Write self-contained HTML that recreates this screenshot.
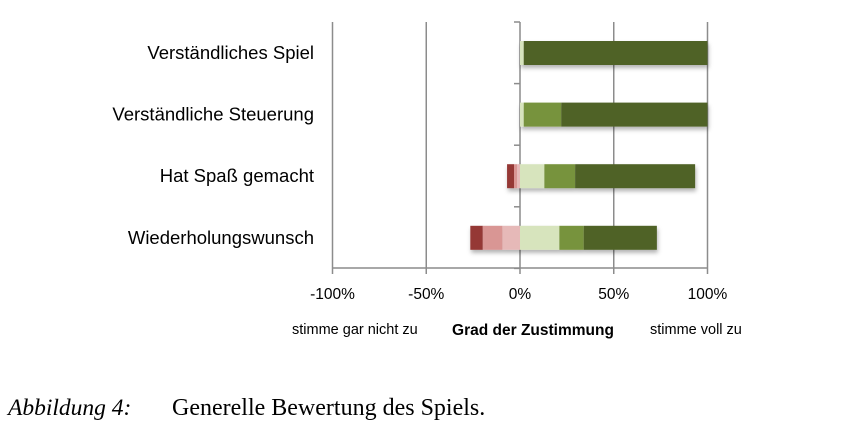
<!DOCTYPE html>
<html><head><meta charset="utf-8"><style>
body{margin:0;background:#fff;width:852px;height:442px;overflow:hidden;font-family:"Liberation Sans",sans-serif}
svg{position:absolute;left:0;top:0}
</style></head><body>
<svg width="852" height="442" id="c">
<defs><filter id="sh" x="-5%" y="-20%" width="110%" height="160%"><feDropShadow dx="1" dy="3" stdDeviation="2" flood-color="#000" flood-opacity="0.3"/></filter></defs>
<g id="grid"></g><g id="bars"></g><g id="labels"></g>
<text x="292" y="334" font-size="14.5" fill="#000">stimme gar nicht zu</text>
<text x="533" y="335" font-size="15.5" font-weight="bold" text-anchor="middle" fill="#000">Grad der Zustimmung</text>
<text x="650" y="334" font-size="14.5" fill="#000">stimme voll zu</text>
<text x="8" y="415" font-family="Liberation Serif,serif" font-size="23.5" font-style="italic">Abbildung 4:</text>
<text x="172" y="415" font-family="Liberation Serif,serif" font-size="24">Generelle Bewertung des Spiels.</text>
</svg>
<script>
const categories=["Verständliches Spiel","Verständliche Steuerung","Hat Spaß gemacht","Wiederholungswunsch"];
const negLight=[0,0,1.6,9.4];
const negMid=[0,0,1.6,10.5];
const negDark=[0,0,3.7,6.6];
const posLight=[2,2,13,21];
const posMid=[0,20,16.4,13];
const posDark=[98,78,64,39];
const ticks=[-100,-50,0,50,100];
const tickLabels=["-100%","-50%","0%","50%","100%"];
const NS="http://www.w3.org/2000/svg";
const x=v=>520+v*1.875;
const rowY=i=>53+i*61.6;
const bh=24;
function mk(t,a,p){const e=document.createElementNS(NS,t);for(const k in a)e.setAttribute(k,a[k]);p.appendChild(e);return e;}
const grid=document.getElementById('grid'),bars=document.getElementById('bars'),labs=document.getElementById('labels');
ticks.forEach((t,i)=>{
 if(t!==0){const l=mk('line',{x1:x(t),x2:x(t),y1:22,y2:268,stroke:'#8c8c8c','stroke-width':1.5},grid);
 }
 const tl=mk('line',{x1:x(t),x2:x(t),y1:268,y2:274,stroke:'#8c8c8c','stroke-width':1.5},grid);
 
 const tx=mk('text',{x:x(t),y:299,'font-size':15.5,'text-anchor':'middle'},labs);tx.textContent=tickLabels[i];
 
});
const ax=mk('line',{x1:x(-100),x2:x(100),y1:268,y2:268,stroke:'#8c8c8c','stroke-width':1.5},grid);

const za=mk('line',{x1:520,x2:520,y1:22,y2:268,stroke:'#8c8c8c','stroke-width':1.5},grid);

for(let i=0;i<=categories.length;i++){const yy=22+i*61.6;const t=mk('line',{x1:514,x2:520,y1:yy,y2:yy,stroke:'#8c8c8c','stroke-width':1.5},grid);
 }
const cols={nd:'#953735',nm:'#d99694',nl:'#e6b9b8',pl:'#d7e4bd',pm:'#77933c',pd:'#4f6228'};
categories.forEach((c,i)=>{
 const y0=rowY(i)-bh/2;
 const g=mk('g',{filter:'url(#sh)'},bars);
 
 let n=0;
 [[negLight,'nl'],[negMid,'nm'],[negDark,'nd']].forEach(([arr,k])=>{const v=arr[i];if(v>0){const r=mk('rect',{x:x(-(n+v)),y:y0,width:v*1.875,height:bh,fill:cols[k]},g);
  }n+=v;});
 let p=0;
 [[posLight,'pl'],[posMid,'pm'],[posDark,'pd']].forEach(([arr,k])=>{const v=arr[i];if(v>0){const r=mk('rect',{x:x(p),y:y0,width:v*1.875,height:bh,fill:cols[k]},g);
  }p+=v;});
 const t=mk('text',{x:314,y:rowY(i)+6,'font-size':18.5,'text-anchor':'end'},labs);t.textContent=c;
 
});
</script>
</body></html>
